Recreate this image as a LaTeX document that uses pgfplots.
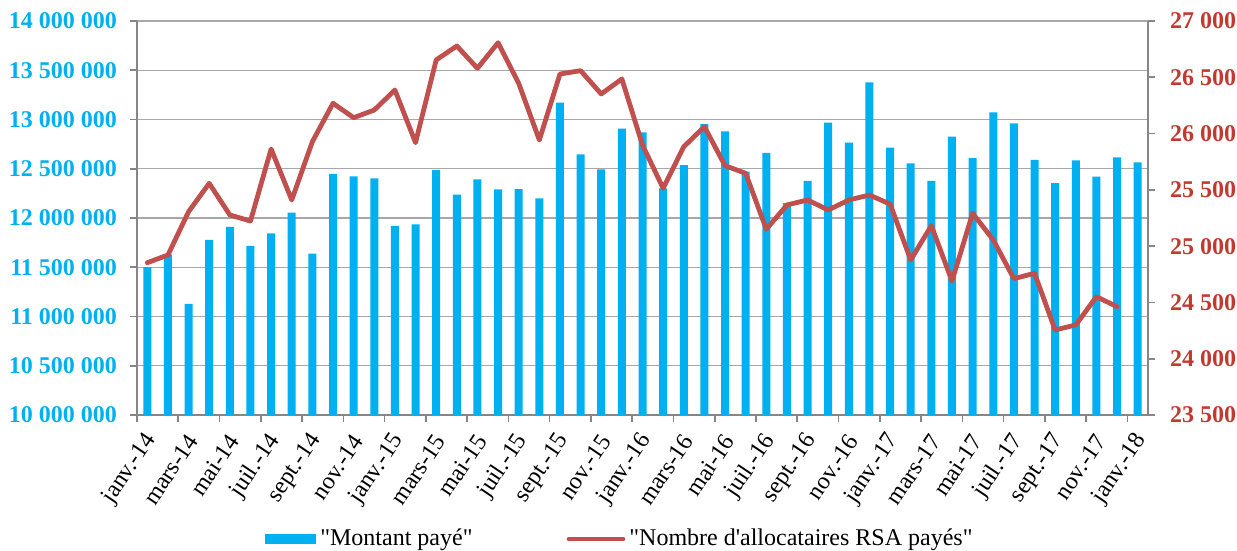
\documentclass[border=0pt]{standalone}
\usepackage{fontspec}
\setmainfont{Liberation Serif}[Ligatures=TeXOff]
\usepackage{pgfplots}
\pgfplotsset{compat=1.18}

\definecolor{barcyan}{HTML}{00B0F0}
\definecolor{linered}{HTML}{C0504D}
\definecolor{labred}{HTML}{C4392F}
\definecolor{axisgray}{HTML}{868686}
\definecolor{gridgray}{HTML}{A8A8A8}

\pgfplotsset{
  common/.style={
    at={(0pt,0pt)}, anchor=south west,
    scale only axis, width=505.5pt, height=197pt,
    xmin=-0.5, xmax=48.5,
    axis line style={draw=axisgray, line width=0.9pt},
    tick align=outside, major tick length=3.5pt, minor tick length=3.5pt,
    tick style={draw=axisgray, line width=0.8pt},
    scaled y ticks=false,
    /pgf/number format/assume math mode=true,
  }
}

\begin{document}
\begin{tikzpicture}
\begin{axis}[
  common,
  ymin=10000000, ymax=14000000,
  axis x line*=bottom, axis y line*=left,
  ytick={10000000,10500000,11000000,11500000,12000000,12500000,13000000,13500000,14000000},
  yticklabels={10 000 000,10 500 000,11 000 000,11 500 000,12 000 000,12 500 000,13 000 000,13 500 000,14 000 000},
  yticklabel style={font=\bfseries\fontsize{12}{14}\selectfont, text=barcyan, xshift=-3pt},
  ymajorgrids, grid style={draw=gridgray, line width=0.65pt},
  xtick={0,2,...,48},
  xticklabels={janv.-14,mars-14,mai-14,juil.-14,sept.-14,nov.-14,
    janv.-15,mars-15,mai-15,juil.-15,sept.-15,nov.-15,
    janv.-16,mars-16,mai-16,juil.-16,sept.-16,nov.-16,
    janv.-17,mars-17,mai-17,juil.-17,sept.-17,nov.-17,janv.-18},
  xticklabel style={font=\fontsize{12}{14}\selectfont, xshift=4pt, yshift=-4.5pt,
    rotate=56, anchor=east},
  major x tick style={draw=none},
  minor xtick={-0.5,1.5,...,47.5},
  legend style={at={(0.4787,-0.3147)}, anchor=center, draw=none, fill=none,
    legend columns=2, font=\fontsize{12}{14}\selectfont,
    /tikz/every even column/.append style={column sep=45pt}},
]
\addplot[ybar, bar width=4pt, fill=barcyan, draw=none, bar shift=0pt,
  legend image code/.code={\fill[barcyan] (0pt,-2.4pt) rectangle (25.5pt,2.4pt);}]
coordinates {
  (0,11500000) (1,11630000) (2,11127000) (3,11777000) (4,11909000)
  (5,11716000) (6,11845000) (7,12054000) (8,11638000) (9,12447000)
  (10,12423000) (11,12403000) (12,11919000) (13,11936000) (14,12487000)
  (15,12237000) (16,12393000) (17,12291000) (18,12294000) (19,12200000)
  (20,13171000) (21,12647000) (22,12494000) (23,12907000) (24,12870000)
  (25,12300000) (26,12538000) (27,12954000) (28,12880000) (29,12470000)
  (30,12660000) (31,12150000) (32,12376000) (33,12968000) (34,12765000)
  (35,13377000) (36,12714000) (37,12555000) (38,12376000) (39,12825000)
  (40,12609000) (41,13073000) (42,12961000) (43,12589000) (44,12355000)
  (45,12585000) (46,12420000) (47,12616000) (48,12565000)
};
\addlegendentry{"Montant payé"}
\addlegendimage{linered, line width=2.4pt,
  legend image code/.code={\draw[linered, line width=2.4pt, line cap=round] (0pt,0pt) -- (27pt,0pt);}}
\addlegendentry{"Nombre d'allocataires RSA payés"}
\end{axis}

\begin{axis}[
  common,
  ymin=23500, ymax=27000,
  axis x line=none, axis y line*=right,
  ytick={23500,24000,24500,25000,25500,26000,26500,27000},
  yticklabels={23 500,24 000,24 500,25 000,25 500,26 000,26 500,27 000},
  yticklabel style={font=\bfseries\fontsize{12}{14}\selectfont, text=labred, xshift=4pt},
]
\addplot[linered, line width=2.4pt, line join=round, line cap=round, mark=none]
coordinates {
  (0,24853) (1,24921) (2,25306) (3,25558) (4,25277) (5,25223) (6,25863)
  (7,25410) (8,25928) (9,26269) (10,26141) (11,26209) (12,26387) (13,25919)
  (14,26654) (15,26778) (16,26580) (17,26807) (18,26446) (19,25943) (20,26529)
  (21,26559) (22,26352) (23,26485) (24,25898) (25,25514) (26,25883) (27,26061)
  (28,25715) (29,25647) (30,25150) (31,25366) (32,25410) (33,25321) (34,25410)
  (35,25454) (36,25374) (37,24877) (38,25182) (39,24690) (40,25292) (41,25055)
  (42,24711) (43,24759) (44,24255) (45,24300) (46,24551) (47,24462)
};
\end{axis}
\pgfresetboundingbox
\path (-68.5pt,-68pt) rectangle (550pt,207.5pt);
\end{tikzpicture}
\end{document}
